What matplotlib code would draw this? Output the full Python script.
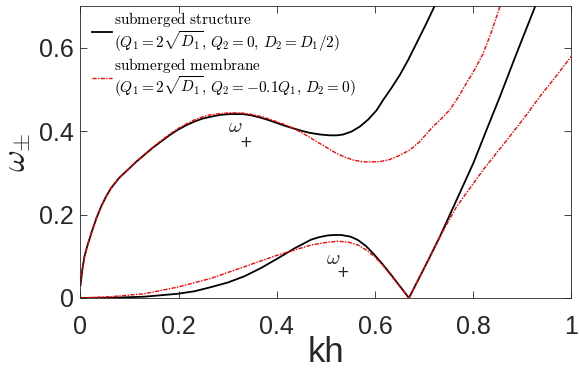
import matplotlib
matplotlib.use("Agg")
import matplotlib.pyplot as plt
import matplotlib.ticker as ticker

plt.rcParams["mathtext.fontset"] = "cm"
plt.rcParams["font.family"] = ["Liberation Sans", "DejaVu Sans"]

# upper branch
up_struct_kh = [0, 0.004, 0.008, 0.014, 0.022, 0.032, 0.042, 0.052, 0.062, 0.078, 0.096,
                0.113, 0.130, 0.147, 0.164, 0.181, 0.198, 0.215, 0.232, 0.248, 0.263,
                0.284, 0.304, 0.331, 0.348, 0.365, 0.382, 0.399, 0.416, 0.433, 0.450,
                0.467, 0.488, 0.508, 0.522, 0.535, 0.552, 0.569, 0.586, 0.603, 0.616,
                0.633, 0.650, 0.667, 0.684, 0.703, 0.722, 0.730]
up_struct_w = [0.031, 0.070, 0.099, 0.125, 0.155, 0.190, 0.219, 0.243, 0.263, 0.287, 0.307,
               0.326, 0.343, 0.360, 0.375, 0.390, 0.403, 0.414, 0.423, 0.430, 0.434,
               0.439, 0.441, 0.441, 0.438, 0.433, 0.427, 0.420, 0.413, 0.407, 0.401,
               0.396, 0.392, 0.390, 0.390, 0.392, 0.399, 0.411, 0.428, 0.450, 0.474,
               0.503, 0.534, 0.570, 0.610, 0.655, 0.702, 0.720]

up_memb_kh = [0, 0.004, 0.008, 0.014, 0.022, 0.032, 0.042, 0.052, 0.062, 0.078, 0.096,
              0.113, 0.130, 0.147, 0.164, 0.181, 0.198, 0.215, 0.232, 0.248, 0.263,
              0.284, 0.304, 0.325, 0.345, 0.372, 0.399, 0.420, 0.440, 0.460, 0.481,
              0.501, 0.521, 0.538, 0.555, 0.572, 0.589, 0.610, 0.630, 0.650, 0.671,
              0.690, 0.718, 0.735, 0.752, 0.769, 0.786, 0.803, 0.820, 0.837, 0.854, 0.860]
up_memb_w = [0.031, 0.070, 0.099, 0.125, 0.155, 0.190, 0.219, 0.243, 0.263, 0.287, 0.307,
             0.327, 0.344, 0.361, 0.377, 0.392, 0.406, 0.417, 0.427, 0.434, 0.439,
             0.442, 0.444, 0.444, 0.441, 0.434, 0.423, 0.414, 0.403, 0.390, 0.375,
             0.361, 0.347, 0.338, 0.331, 0.327, 0.326, 0.327, 0.332, 0.342, 0.355,
             0.374, 0.411, 0.430, 0.451, 0.481, 0.515, 0.548, 0.586, 0.638, 0.698, 0.715]

# lower branch
lo_struct_kh = [0, 0.062, 0.130, 0.198, 0.232, 0.266, 0.300, 0.334, 0.368, 0.402, 0.436,
                0.470, 0.487, 0.504, 0.518, 0.531, 0.550, 0.565, 0.582, 0.599, 0.616,
                0.633, 0.650, 0.669, 0.705, 0.732, 0.766, 0.800, 0.827, 0.854, 0.888,
                0.927, 0.935]
lo_struct_w = [0, 0.0005, 0.003, 0.010, 0.016, 0.026, 0.037, 0.052, 0.072, 0.095, 0.119,
               0.140, 0.146, 0.150, 0.151, 0.151, 0.147, 0.139, 0.124, 0.103, 0.080,
               0.055, 0.029, 0, 0.083, 0.147, 0.235, 0.323, 0.403, 0.482, 0.586,
               0.702, 0.725]

lo_memb_kh = [0, 0.062, 0.130, 0.198, 0.266, 0.334, 0.368, 0.402, 0.436, 0.470, 0.500,
              0.524, 0.545, 0.565, 0.582, 0.599, 0.616, 0.633, 0.650, 0.669, 0.705,
              0.732, 0.766, 0.793, 0.820, 0.847, 0.874, 0.905, 0.935, 0.968, 1.0]
lo_memb_w = [0, 0.003, 0.010, 0.026, 0.047, 0.075, 0.089, 0.103, 0.115, 0.127, 0.133,
             0.136, 0.134, 0.127, 0.115, 0.099, 0.078, 0.053, 0.028, 0, 0.083,
             0.147, 0.219, 0.263, 0.307, 0.347, 0.387, 0.434, 0.482, 0.531, 0.580]

labels = [
    r"$\mathrm{submerged\ structure}$" + "\n" + r"$(Q_1 = 2\sqrt{D_1},\, Q_2 = 0,\, D_2 = D_1/2)$",
    r"$\mathrm{submerged\ membrane}$" + "\n" + r"$(Q_1 = 2\sqrt{D_1},\, Q_2 = -0.1Q_1,\, D_2 = 0)$",
]

DARK = "#262626"

fig = plt.figure(figsize=(5.79, 3.81), dpi=100)
ax = fig.add_axes([0.139, 0.218, 0.848, 0.766])

l1, = ax.plot(up_struct_kh, up_struct_w, color="black", lw=1.3, label=labels[0])
ax.plot(lo_struct_kh, lo_struct_w, color="black", lw=1.3)
l2, = ax.plot(up_memb_kh, up_memb_w, color="red", lw=1.0, ls=(0, (3, 1, 1, 1)), label=labels[1])
ax.plot(lo_memb_kh, lo_memb_w, color="red", lw=1.0, ls=(0, (3, 1, 1, 1)))

# omega_+ annotations
ax.text(0.316, 0.411, r"$\omega$", fontsize=15, ha="center", va="center", color=DARK)
ax.text(0.336, 0.374, "+", fontsize=11, ha="center", va="center", color=DARK,
        family="DejaVu Sans")
ax.text(0.5155, 0.095, r"$\omega$", fontsize=15, ha="center", va="center", color=DARK)
ax.text(0.534, 0.062, "+", fontsize=11, ha="center", va="center", color=DARK,
        family="DejaVu Sans")

ax.set_xlim(0, 1)
ax.set_ylim(0, 0.7)
ax.set_xticks([0, 0.2, 0.4, 0.6, 0.8, 1.0])
ax.set_yticks([0, 0.2, 0.4, 0.6])
fmt = ticker.FuncFormatter(lambda v, p: f"{v:g}")
ax.xaxis.set_major_formatter(fmt)
ax.yaxis.set_major_formatter(fmt)
ax.tick_params(direction="in", length=5, width=0.6, top=True, right=True,
               labelsize=18, colors=DARK)
ax.tick_params(axis="x", pad=12)
ax.tick_params(axis="y", pad=5)
for s in ax.spines.values():
    s.set_color(DARK)
    s.set_linewidth(0.6)

ax.set_xlabel("kh", fontsize=25, color=DARK, labelpad=-2)
ax.set_ylabel(r"$\omega_{\pm}$", fontsize=24, color=DARK, labelpad=4)

leg = ax.legend(handles=[l1, l2], loc="upper left", bbox_to_anchor=(0.024, 0.985),
                frameon=False, fontsize=11, handlelength=1.3, handletextpad=0.1,
                borderpad=0, borderaxespad=0, labelspacing=0.15)
for t in leg.get_texts():
    t.set_linespacing(1.0)

fig.savefig("out.png", dpi=100)
